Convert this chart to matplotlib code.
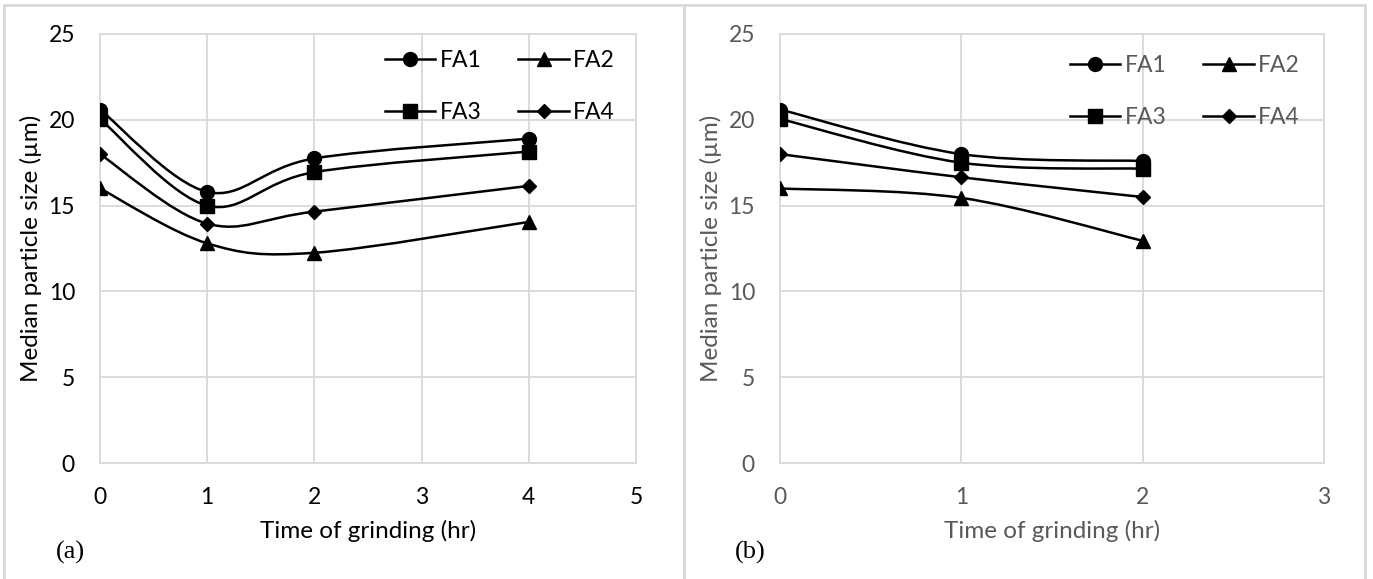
"""Median particle size vs. grinding time, two panels."""

import matplotlib.pyplot as plt
from matplotlib.patches import PathPatch, Rectangle
from matplotlib.path import Path
from matplotlib.lines import Line2D

series_names = ["FA1", "FA2", "FA3", "FA4"]
series_markers = ["o", "^", "s", "D"]

# panel (a)
time_a = [0, 1, 2, 4]
fa1_a = [20.6, 15.8, 17.75, 18.9]
fa2_a = [16.0, 12.8, 12.25, 14.05]
fa3_a = [20.05, 15.0, 16.95, 18.15]
fa4_a = [18.0, 13.95, 14.65, 16.15]

# panel (b)
time_b = [0, 1, 2]
fa1_b = [20.6, 18.0, 17.6]
fa2_b = [16.0, 15.45, 12.95]
fa3_b = [20.05, 17.5, 17.15]
fa4_b = [18.0, 16.65, 15.5]

GRID = "#d9d9d9"
MSIZE = {"o": 10, "^": 10, "s": 9.5, "D": 7.5}


def smooth_path(x, y):
    """Excel-like smoothed line: Catmull-Rom segments as cubic Beziers."""
    pts = list(zip(x, y))
    verts = [pts[0]]
    codes = [Path.MOVETO]
    n = len(pts)
    for i in range(n - 1):
        p0 = pts[max(i - 1, 0)]
        p1 = pts[i]
        p2 = pts[i + 1]
        p3 = pts[min(i + 2, n - 1)]
        c1 = (p1[0] + (p2[0] - p0[0]) / 6, p1[1] + (p2[1] - p0[1]) / 6)
        c2 = (p2[0] - (p3[0] - p1[0]) / 6, p2[1] - (p3[1] - p1[1]) / 6)
        verts += [c1, c2, p2]
        codes += [Path.CURVE4] * 3
    return Path(verts, codes)


def draw_panel(ax, times, values, xmax, text_color, tag, leg_anchor):
    for vals, mk in zip(values, series_markers):
        ax.add_patch(PathPatch(smooth_path(times, vals), fill=False,
                               edgecolor="black", lw=1.8, zorder=3))
        ax.plot(times, vals, linestyle="none", marker=mk, color="black",
                markersize=MSIZE[mk], zorder=4)
    ax.set_xlim(0, xmax)
    ax.set_ylim(0, 25)
    ax.set_xticks(range(xmax + 1))
    ax.set_yticks(range(0, 26, 5))
    ax.grid(True, color=GRID, lw=1.3)
    ax.set_axisbelow(True)
    for sp in ax.spines.values():
        sp.set_color(GRID)
        sp.set_linewidth(1.3)
    ax.tick_params(length=0, labelsize=16.5, colors=text_color)
    ax.tick_params(axis="x", pad=17)
    ax.tick_params(axis="y", pad=18)
    ax.set_xlabel("Time of grinding (hr)", fontsize=17.5, color=text_color, labelpad=9)
    ax.set_ylabel("Median particle size (µm)", fontsize=17.5, color=text_color, labelpad=5)

    handles = [Line2D([], [], color="black", lw=1.8, marker=mk, markersize=MSIZE[mk])
               for mk in series_markers]
    # matplotlib fills legend columns first: reorder so rows read FA1 FA2 / FA3 FA4
    order = [0, 2, 1, 3]
    ax.legend([handles[i] for i in order], [series_names[i] for i in order],
              ncol=2, frameon=False, fontsize=16.5,
              loc="upper right", bbox_to_anchor=leg_anchor,
              borderaxespad=0, borderpad=0,
              handlelength=2.2, handletextpad=0.2, columnspacing=1.6,
              labelspacing=1.35, labelcolor=text_color)
    ax.text(-0.055, -0.208, tag, transform=ax.transAxes, fontsize=19,
            family="Liberation Serif", color="black", ha="center", va="center")


plt.rcParams["font.family"] = ["Lato", "DejaVu Sans"]

fig = plt.figure(figsize=(13.73, 5.79), dpi=100)

ax_a = fig.add_axes([100 / 1373, 1 - 463 / 579, 536 / 1373, 429 / 579])
ax_b = fig.add_axes([780 / 1373, 1 - 463 / 579, 544 / 1373, 429 / 579])

draw_panel(ax_a, time_a, [fa1_a, fa2_a, fa3_a, fa4_a], 5, "black", "(a)",
           (0.961, 0.962))
draw_panel(ax_b, time_b, [fa1_b, fa2_b, fa3_b, fa4_b], 3, "#595959", "(b)",
           (0.956, 0.950))

# outer frames of the two chart areas
for x0, x1 in [(4, 684), (684, 1365)]:
    fig.add_artist(Rectangle((x0 / 1373, -0.01), (x1 - x0) / 1373, 1 - 5 / 579 + 0.01,
                             transform=fig.transFigure, fill=False,
                             edgecolor=GRID, lw=2))

fig.savefig("out.png", dpi=100)
